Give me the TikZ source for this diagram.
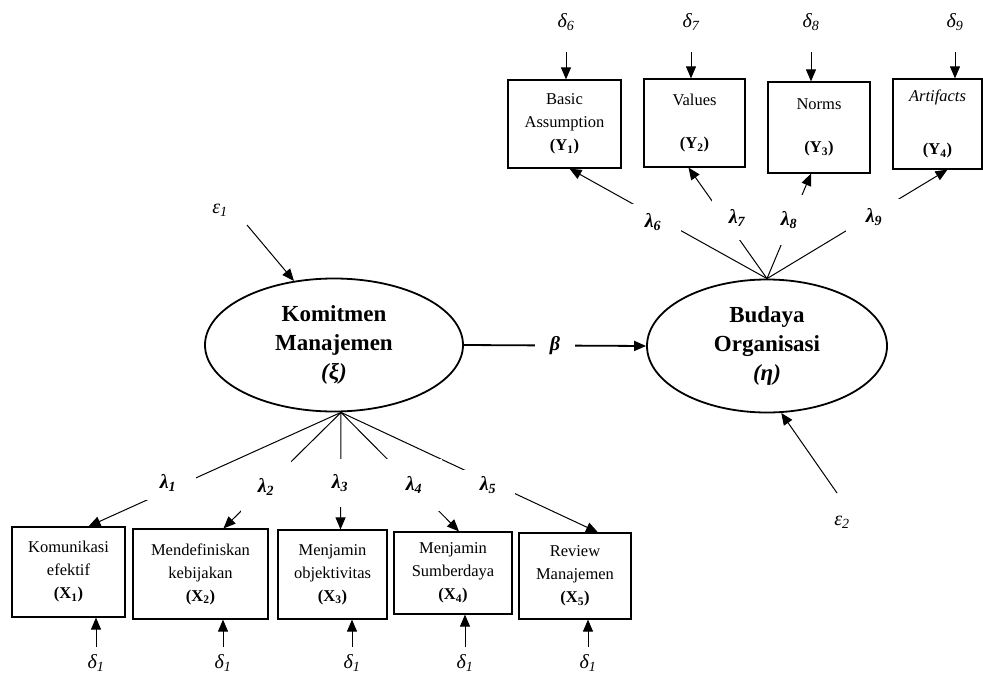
\documentclass[tikz,border=0pt]{standalone}
\usepackage{fontspec}
\setmainfont{Liberation Serif}
\usetikzlibrary{arrows.meta,shapes.geometric}

\newcommand{\gsub}[2]{#1\textsubscript{#2}}

\begin{document}
\begin{tikzpicture}[x=1pt, y=-1pt, thick,
    latent/.style={ellipse, draw, line width=1.8pt, minimum width=258pt, minimum height=133pt, inner sep=0pt, align=center, font=\fontsize{23}{29}\selectfont\bfseries},
    indicator/.style={rectangle, draw, line width=1.2pt, inner sep=0pt, align=center, font=\fontsize{16.5}{23}\selectfont},
    coef/.style={fill=white, inner sep=0pt, font=\fontsize{20}{20}\selectfont\bfseries\itshape},
    err/.style={inner sep=1pt, font=\fontsize{20}{20}\selectfont\itshape},
    load/.style={-{Triangle[length=12pt,width=10pt]}, line width=1pt}]

    \useasboundingbox (0,0) rectangle (983,677);

    % Latent variables
    \node[latent] (komit) at (334,345) {Komitmen\\Manajemen\\\textit{(ξ)}};
    \node[latent, minimum width=240pt] (budaya) at (767,346) {Budaya\\Organisasi\\\textit{(η)}};

    % Indicators of Komitmen Manajemen
    \node[indicator, minimum width=113pt, minimum height=90pt] (x1) at (68.5,572) {Komunikasi\\efektif\\\textbf{(X\textsubscript{1})}};
    \node[indicator, minimum width=135pt, minimum height=90pt] (x2) at (200.5,574) {Mendefiniskan\\kebijakan\\\textbf{(X\textsubscript{2})}};
    \node[indicator, minimum width=109pt, minimum height=89pt] (x3) at (332.5,574.5) {Menjamin\\objektivitas\\\textbf{(X\textsubscript{3})}};
    \node[indicator, minimum width=118pt, minimum height=82pt] (x4) at (453,573) {Menjamin\\Sumberdaya\\\textbf{(X\textsubscript{4})}};
    \node[indicator, minimum width=112pt, minimum height=86pt] (x5) at (575,576) {Review\\Manajemen\\\textbf{(X\textsubscript{5})}};

    % Indicators of Budaya Organisasi
    \node[indicator, minimum width=113pt, minimum height=88pt] (y1) at (564.5,124) {Basic\\Assumption\\\textbf{(Y\textsubscript{1})}};
    \node[indicator, minimum width=101pt, minimum height=88pt] (y2) at (694.5,123) {Values\\[20pt]\textbf{(Y\textsubscript{2})}};
    \node[indicator, minimum width=102pt, minimum height=91pt] (y3) at (819,127.5) {Norms\\[20pt]\textbf{(Y\textsubscript{3})}};
    \node[indicator, minimum width=89pt, minimum height=90pt] (y4) at (937.5,124) {\textit{Artifacts}\\[30pt]\textbf{(Y\textsubscript{4})}};

    % Error terms
    \node[err] (e1) at (220,210) {\gsub{ε}{1}};
    \node[err] (e2) at (842,522) {\gsub{ε}{2}};

    \node[err] (d6) at (566,22) {\gsub{δ}{6}};
    \node[err] (d7) at (691,22) {\gsub{δ}{7}};
    \node[err] (d8) at (811,22) {\gsub{δ}{8}};
    \node[err] (d9) at (955,22) {\gsub{δ}{9}};

    \node[err] (da) at (96,663) {\gsub{δ}{1}};
    \node[err] (db) at (223,663) {\gsub{δ}{1}};
    \node[err] (dc) at (352,663) {\gsub{δ}{1}};
    \node[err] (dd) at (465,663) {\gsub{δ}{1}};
    \node[err] (de) at (588,663) {\gsub{δ}{1}};

    \draw[load] ([shift={(27,15)}]e1.center) -- (komit.122);
    \draw[load] ([shift={(-5,-29)}]e2.center) -- (budaya.-78);

    \draw[load] ([yshift=-30pt]d6.center) -- (d6 |- y1.north);
    \draw[load] ([yshift=-30pt]d7.center) -- (d7 |- y2.north);
    \draw[load] ([yshift=-30pt]d8.center) -- (d8 |- y3.north);
    \draw[load] ([yshift=-30pt]d9.center) -- (d9 |- y4.north);

    \draw[load] ([yshift=16pt]da.center) -- (da |- x1.south);
    \draw[load] ([yshift=16pt]db.center) -- (db |- x2.south);
    \draw[load] ([yshift=16pt]dc.center) -- (dc |- x3.south);
    \draw[load] ([yshift=16pt]dd.center) -- (dd |- x4.south);
    \draw[load] ([yshift=16pt]de.center) -- (de |- x5.south);

    % Structural path
    \draw[load, line width=1.8pt] (komit.east) -- node[coef, minimum width=40pt, minimum height=20pt] {β} (budaya.west);

    % Loadings of Budaya Organisasi
    \draw[load] (budaya.north) -- ([xshift=5pt]y1.south);
    \draw[load] (budaya.north) -- ([xshift=-6pt]y2.south);
    \draw[load] (budaya.north) -- ([xshift=-8pt]y3.south);
    \draw[load] (budaya.north) -- ([xshift=10pt]y4.south);

    \node[coef, minimum width=56pt, minimum height=36pt] (l6) at (653,222) {\gsub{λ}{6}};
    \node[coef, minimum width=50pt, minimum height=44pt] (l7) at (737,218) {\gsub{λ}{7}};
    \node[coef, minimum width=40pt, minimum height=50pt] (l8) at (789,220) {\gsub{λ}{8}};
    \node[coef, minimum width=56pt, minimum height=36pt] (l9) at (874,217) {\gsub{λ}{9}};

    % Loadings of Komitmen Manajemen
    \coordinate (fan) at ([xshift=7pt]komit.south);
    \draw[load] (fan) -- ([xshift=20pt]x1.north);
    \draw[load] (fan) -- ([xshift=23pt]x2.north);
    \draw[load] (fan) -- ([xshift=8pt]x3.north);
    \draw[load] (fan) -- ([xshift=6pt]x4.north);
    \draw[load] (fan) -- ([xshift=23pt]x5.north);

    \node[coef, minimum width=56pt, minimum height=34pt] (l1) at (168,483) {\gsub{λ}{1}};
    \node[coef, minimum width=50pt, minimum height=54pt] (l2) at (266,487) {\gsub{λ}{2}};
    \node[coef, minimum width=40pt, minimum height=48pt] (l3) at (340,483) {\gsub{λ}{3}};
    \node[coef, minimum width=56pt, minimum height=52pt] (l4) at (414,485) {\gsub{λ}{4}};
    \node[coef, minimum width=54pt, minimum height=30pt] (l5) at (488,485) {\gsub{λ}{5}};

\end{tikzpicture}
\end{document}
